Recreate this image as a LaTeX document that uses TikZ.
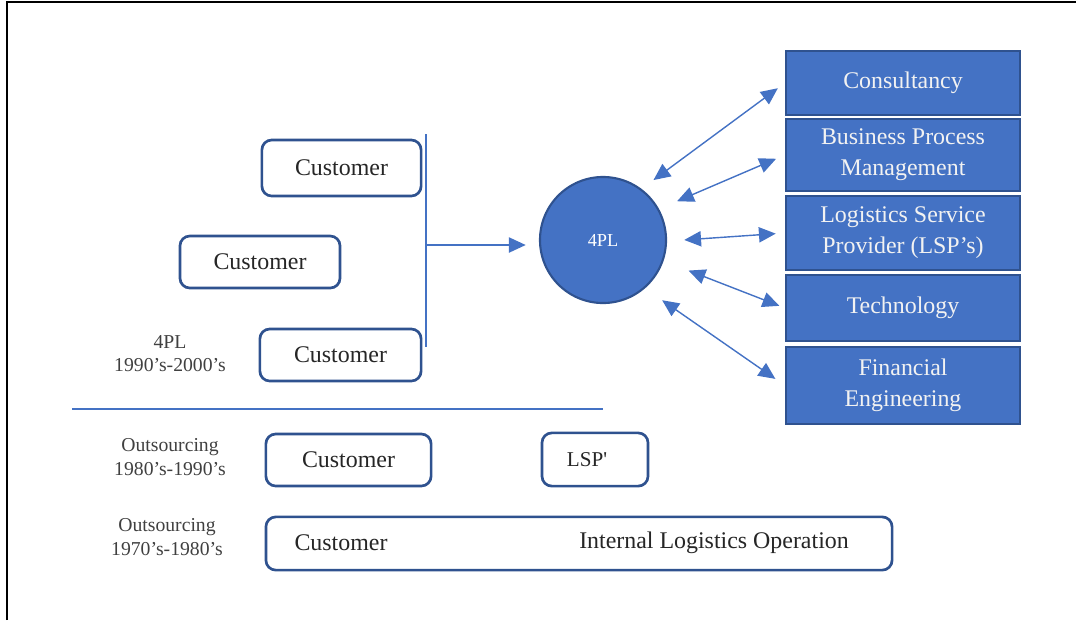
\documentclass[tikz,border=0pt]{standalone}
\usepackage{fontspec}
\setmainfont{Liberation Serif}
\usetikzlibrary{arrows.meta, calc}

\definecolor{fplblue}{HTML}{4472C4}
\definecolor{fpledge}{HTML}{2F528F}
\definecolor{labelgray}{HTML}{404040}

\tikzset{
  custbox/.style={
    draw=fpledge, line width=1.9pt, rounded corners=7pt,
    fill=white, text=black!85, inner sep=0pt,
    font=\fontsize{17}{20}\selectfont,
  },
  svcbox/.style={
    draw=fpledge, line width=1.5pt, fill=fplblue,
    text=white!95!black, align=center, inner sep=0pt,
    minimum width=5.85cm,
    font=\fontsize{17}{22}\selectfont,
  },
  hub/.style   ={circle, draw=fpledge, line width=1.5pt, fill=fplblue,
                 minimum size=3.15cm, inner sep=0pt, text=white,
                 font=\fontsize{13}{15}\selectfont},
  eralbl/.style={text=labelgray, align=center,
                 font=\fontsize{14}{16.5}\selectfont},
  plain/.style ={text=black!85, font=\fontsize{17}{20}\selectfont},
  link/.style  ={fplblue, line width=1pt},
  arr/.style   ={link, -{Triangle[length=0.42cm,width=0.38cm]}},
  dblarr/.style={link, {Triangle[length=0.42cm,width=0.38cm]}-{Triangle[length=0.42cm,width=0.38cm]}},
}

\begin{document}
\begin{tikzpicture}[x=0.025cm, y=-0.025cm]
\useasboundingbox (0,0) rectangle (1076,620);

%% frame
\draw[black, line width=1pt] (7,620) -- (7,2) -- (1076,2);

%% ════════════════════════════════════════════════════════════
%%  TOP — 4PL, 1990's-2000's
%% ════════════════════════════════════════════════════════════
\node[custbox, minimum width=3.98cm, minimum height=1.40cm] (cust1) at (341.5,168) {Customer};
\node[custbox, minimum width=4.00cm, minimum height=1.30cm] (cust2) at (260,262)   {Customer};
\node[custbox, minimum width=4.03cm, minimum height=1.30cm] (cust3) at (340.5,355) {Customer};

\node[eralbl] (era4pl) at (170,354) {4PL\\1990's-2000’s};

% collecting bus
\coordinate (bustop) at (426,134);
\coordinate (busbot) at (426,347);
\coordinate (busmid) at (426,245);
\draw[link] (bustop) -- (busbot);

\node[hub] (fourpl) at (603,240) {4PL};

\draw[arr, shorten >=0.33cm] (busmid) -- (busmid -| fourpl.west);

% service boxes
\node[svcbox, minimum height=1.60cm] (cons) at (903,83)    {Consultancy};
\node[svcbox, minimum height=1.80cm] (bpm)  at (903,155)   {Business Process\\Management};
\node[svcbox, minimum height=1.85cm] (lsps) at (903,233)   {Logistics Service\\Provider (LSP's)};
\node[svcbox, minimum height=1.65cm] (tech) at (903,308)   {Technology};
\node[svcbox, minimum height=1.93cm] (fin)  at (903,385.5) {Financial\\Engineering};

% two-way links
\draw[dblarr, shorten <=0.37cm, shorten >=0.22cm] (fourpl.53)  -- (cons.west);
\draw[dblarr, shorten <=0.49cm, shorten >=0.24cm] (fourpl.29)  -- (bpm.west);
\draw[dblarr, shorten <=0.43cm, shorten >=0.23cm] (fourpl.-1)  -- (lsps.west);
\draw[dblarr, shorten <=0.67cm, shorten >=0.15cm] (fourpl.-19) -- (tech.west);
\draw[dblarr, shorten <=0.52cm, shorten >=0.29cm] (fourpl.-49) -- (fin.west);

%% separator
\coordinate (sepl) at (72,409);
\coordinate (sepr) at (603,409);
\draw[link] (sepl) -- (sepr);

%% ════════════════════════════════════════════════════════════
%%  BOTTOM — outsourcing eras
%% ════════════════════════════════════════════════════════════
\node[eralbl] (era80) at (170,457) {Outsourcing\\1980's-1990’s};
\node[custbox, minimum width=4.13cm, minimum height=1.30cm] (cust4) at (348.5,460) {Customer};
\node[custbox, minimum width=2.65cm, minimum height=1.33cm] (lsp)   at (595,459.5) {};
\node[plain, font=\fontsize{15}{18}\selectfont] (lsptxt) at (587,460) {LSP\textquotesingle};

\node[eralbl] (era70) at (167,537) {Outsourcing\\1970's-1980’s};
\node[custbox, minimum width=15.65cm, minimum height=1.33cm] (inhouse) at (579,543.5) {};
\node[plain] (cust5) at (341,543) {Customer};
\node[plain] (ilo)   at (714,543) {Internal Logistics Operation};

\end{tikzpicture}
\end{document}
